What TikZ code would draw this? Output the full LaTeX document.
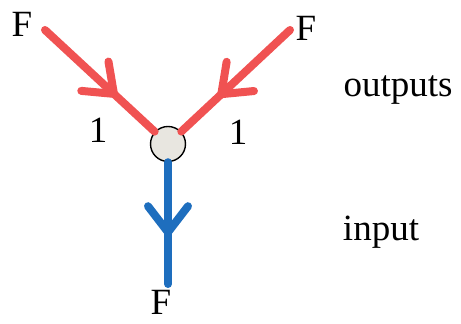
\documentclass[tikz,border=0pt]{standalone}
\usepackage{fontspec}
\setmainfont{Liberation Serif}
\usetikzlibrary{arrows.meta,decorations.markings}
\definecolor{legred}{RGB}{240,82,82}
\definecolor{legblue}{RGB}{30,110,190}
\definecolor{hubfill}{RGB}{232,230,224}

\begin{document}
\begin{tikzpicture}[
  x=0.5pt, y=-0.5pt,
  font=\fontsize{18.5}{21}\selectfont,
  hub/.style={circle, draw=black, line width=0.7pt, fill=hubfill, minimum size=17.5pt, inner sep=0pt},
  leg/.style={line width=4pt, line cap=round},
  midarr/.style={postaction={decorate}, decoration={markings,
      mark=at position #1 with {\arrow{Straight Barb[length=13pt,width=20pt,round]}}}},
  outleg/.style={leg, legred, midarr=49pt},
  inleg/.style={leg, legblue, midarr=37pt},
  lbl/.style={inner sep=0pt}
]
\useasboundingbox (0,0) rectangle (461,324);

\node[hub] (hub) at (168,144) {};
\coordinate (endL) at (45,30);
\coordinate (endR) at (290,30);
\coordinate (endB) at (168,284);

\draw[outleg] (endL) -- (hub);
\draw[outleg] (endR) -- (hub);
\draw[inleg] (hub) -- (endB);

\node[lbl] (fL) at (22,24) {F};
\node[lbl] (fR) at (306,28) {F};
\node[lbl] (fB) at (161,302) {F};
\node[lbl] (wL) at (98,130) {1};
\node[lbl] (wR) at (238,132) {1};
\node[lbl] (outs) at (398,90) {outputs};
\node[lbl] (ins) at (381,232) {input};
\end{tikzpicture}
\end{document}
